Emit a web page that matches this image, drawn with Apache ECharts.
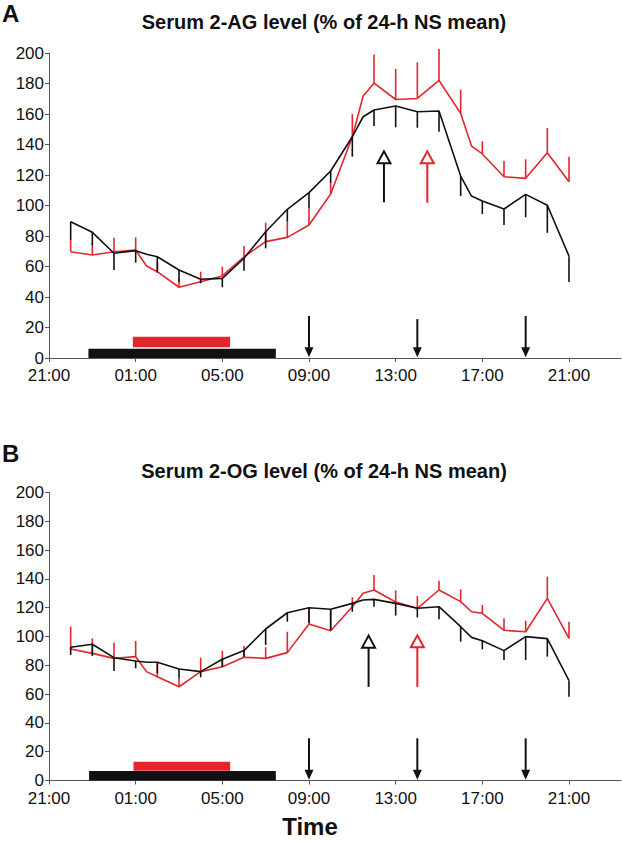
<!DOCTYPE html>
<html><head><meta charset="utf-8">
<script src="https://cdn.jsdelivr.net/npm/echarts@6/dist/echarts.min.js"></script>
<style>html,body{margin:0;padding:0;background:#fff}#c{width:622px;height:842px}</style>
</head><body><div id="c"></div>
<script>
// Hours after 21:00 (0 = 21:00 day 1, 24 = 21:00 day 2)
const hours = [1,2,3,4,4.5,5,6,7,8,9,10,11,12,13,14,14.5,15,16,17,18,19,19.5,20,21,22,23,24];
const xTickHours = [0,4,8,12,16,20,24];
const xTickLabels = ['21:00','01:00','05:00','09:00','13:00','17:00','21:00'];
const yTickValues = [0,20,40,60,80,100,120,140,160,180,200];

// Panel A: Serum 2-AG
const blackA = [89.4,82.4,68.7,70.4,68.0,66.4,57.7,51.6,52.2,65.4,82.8,97.5,108.4,122.6,145.1,158.2,162.6,165.3,161.5,162.0,119.3,106.2,103.0,97.7,107.3,100.2,66.8];
const blackALow = [77.4,74.0,57.7,62.5,null,56.0,50.0,49.0,46.4,57.2,71.9,89.4,98.2,114.5,132.0,null,152.1,151.3,151.0,148.4,106.2,null,94.4,87.2,92.3,82.1,49.8];
const redA = [69.7,67.5,69.7,70.8,60.3,56.6,46.4,50.0,53.8,66.4,76.3,79.1,87.2,107.5,145.0,171.8,180.2,169.5,170.2,182.0,160.4,139.0,133.8,118.9,117.8,134.6,115.6];
const redAHigh = [77.4,75.2,78.9,79.1,null,63.0,52.3,56.6,59.9,73.4,88.7,89.4,98.2,114.5,160.0,null,199.0,189.5,193.9,202.6,176.0,null,142.1,129.2,130.3,150.9,132.0];

// Panel B: Serum 2-OG
const blackB = [92.5,94.6,85.3,83.0,82.1,82.1,77.4,75.6,84.2,90.2,105.2,116.5,120.0,118.9,123.0,125.3,125.8,123.0,119.6,120.7,106.8,99.4,97.1,90.2,99.9,98.5,69.3];
const blackBLow = [87.2,86.5,76.0,77.9,null,74.5,71.0,71.7,79.0,86.0,94.1,110.3,109.6,104.5,117.2,null,120.7,114.5,113.3,111.9,96.4,null,91.1,83.7,83.7,86.0,58.2];
const redB = [91.3,88.3,84.8,86.0,75.6,72.1,65.1,75.6,79.0,85.6,84.8,88.8,108.7,104.0,120.7,130.0,132.3,124.0,119.6,132.3,124.2,117.2,116.1,104.3,103.3,126.5,98.7];
const redBHigh = [106.8,98.7,95.7,96.9,null,81.4,71.0,85.3,90.1,93.4,92.5,103.3,119.6,118.9,127.2,null,142.7,132.0,128.1,138.8,132.8,null,121.9,112.6,111.0,141.5,110.3];

// Period bars: [startHour, endHour, bottom, top]
const blackPeriodA = [1.82, 10.47, 0, 6.1];
const redPeriodA = [3.87, 8.36, 7.0, 14.0];
const blackPeriodB = [1.85, 10.47, 0, 6.6];
const redPeriodB = [3.9, 8.36, 6.8, 13.0];

// Down arrows (meals): [hour, topValue, tipValue]
const downArrowsA = [[12, 27.5, 0.5],[17, 25.5, 0.5],[22, 27.5, 0.5]];
const downArrowsB = [[12, 29.3, 0.5],[17, 29.3, 0.5],[22, 29.3, 0.5]];
// Up arrows (peaks): [hour, bottomValue, tipValue]
const upArrowBlackA = [[15.46, 102.1, 135.5]];
const upArrowRedA = [[17.46, 101.8, 135.5]];
const upArrowBlackB = [[14.75, 65.0, 100.6]];
const upArrowRedB = [[17.0, 65.0, 100.8]];

const BLACK = '#111111';
const RED = '#e3262d';
const FONT = "'Liberation Sans', Arial, sans-serif";

function pairs(xs, ys){ return xs.map((x,i)=>[x, ys[i]]); }
function triples(xs, ys, bs){ const out=[]; xs.forEach((x,i)=>{ if(bs[i]!=null) out.push([x, ys[i], bs[i]]); }); return out; }

function errRender(color){
  return function(params, api){
    const p1 = api.coord([api.value(0), api.value(1)]);
    const p2 = api.coord([api.value(0), api.value(2)]);
    return {type:'line', shape:{x1:p1[0],y1:p1[1],x2:p2[0],y2:p2[1]}, style:{stroke:color, lineWidth:1.6}};
  };
}
function rectRender(color){
  return function(params, api){
    const a = api.coord([api.value(0), api.value(3)]);
    const b = api.coord([api.value(1), api.value(2)]);
    return {type:'rect', shape:{x:a[0], y:a[1], width:b[0]-a[0], height:b[1]-a[1]}, style:{fill:color}};
  };
}
function downArrowRender(color){
  return function(params, api){
    const top = api.coord([api.value(0), api.value(1)]);
    const tip = api.coord([api.value(0), api.value(2)]);
    const hl = 10, hw = 4.5;
    return {type:'group', children:[
      {type:'line', shape:{x1:top[0],y1:top[1],x2:tip[0],y2:tip[1]-hl+1}, style:{stroke:color, lineWidth:2}},
      {type:'polygon', shape:{points:[[tip[0]-hw, tip[1]-hl],[tip[0]+hw, tip[1]-hl],[tip[0], tip[1]]]}, style:{fill:color}}
    ]};
  };
}
function upArrowRender(color){
  return function(params, api){
    const bot = api.coord([api.value(0), api.value(1)]);
    const tip = api.coord([api.value(0), api.value(2)]);
    const hl = 12, hw = 6.5;
    return {type:'group', children:[
      {type:'line', shape:{x1:bot[0],y1:bot[1],x2:tip[0],y2:tip[1]+hl}, style:{stroke:color, lineWidth:2}},
      {type:'polygon', shape:{points:[[tip[0]-hw, tip[1]+hl],[tip[0]+hw, tip[1]+hl],[tip[0], tip[1]]]}, style:{fill:'#fff', stroke:color, lineWidth:2}}
    ]};
  };
}

const grids = [
  {left:49, top:53, width:572, height:305},
  {left:49, top:492.5, width:572, height:288}
];
function xAxis(i){
  return {type:'value', gridIndex:i, min:0, max:26.4, interval:4,
    axisLine:{show:true, lineStyle:{color:'#555', width:1}},
    axisTick:{show:true, length:4, inside:false, lineStyle:{color:'#555'}, customValues:xTickHours},
    axisLabel:{show:true, customValues:xTickHours, margin:9, color:'#111', fontSize:17, fontFamily:FONT,
      formatter:function(v){ const idx = xTickHours.indexOf(v); return idx>=0 ? xTickLabels[idx] : ''; }},
    splitLine:{show:false}};
}
function yAxis(i){
  return {type:'value', gridIndex:i, min:0, max:200, interval:20,
    axisLine:{show:true, lineStyle:{color:'#555', width:1}},
    axisTick:{show:true, length:4, lineStyle:{color:'#555'}},
    axisLabel:{show:true, margin:5, color:'#111', fontSize:17, fontFamily:FONT},
    splitLine:{show:false}};
}
function panelSeries(i, blk, blkLow, red, redHigh, bP, rP, downs, upB, upR){
  return [
    {type:'custom', xAxisIndex:i, yAxisIndex:i, renderItem:rectRender(BLACK), data:[bP], encode:{x:[0,1], y:[2,3]}, silent:true, z:1},
    {type:'custom', xAxisIndex:i, yAxisIndex:i, renderItem:rectRender(RED), data:[rP], encode:{x:[0,1], y:[2,3]}, silent:true, z:1},
    {type:'custom', xAxisIndex:i, yAxisIndex:i, renderItem:errRender(RED), data:triples(hours, red, redHigh), encode:{x:0, y:[1,2]}, silent:true, z:2},
    {type:'line', xAxisIndex:i, yAxisIndex:i, data:pairs(hours, red), symbol:'none', lineStyle:{color:RED, width:1.6}, z:3, silent:true},
    {type:'custom', xAxisIndex:i, yAxisIndex:i, renderItem:errRender(BLACK), data:triples(hours, blk, blkLow), encode:{x:0, y:[1,2]}, silent:true, z:4},
    {type:'line', xAxisIndex:i, yAxisIndex:i, data:pairs(hours, blk), symbol:'none', lineStyle:{color:BLACK, width:1.6}, z:5, silent:true},
    {type:'custom', xAxisIndex:i, yAxisIndex:i, renderItem:downArrowRender(BLACK), data:downs, encode:{x:0, y:[1,2]}, silent:true, z:6},
    {type:'custom', xAxisIndex:i, yAxisIndex:i, renderItem:upArrowRender(BLACK), data:upB, encode:{x:0, y:[1,2]}, silent:true, z:6},
    {type:'custom', xAxisIndex:i, yAxisIndex:i, renderItem:upArrowRender(RED), data:upR, encode:{x:0, y:[1,2]}, silent:true, z:6}
  ];
}

const chart = echarts.init(document.getElementById('c'), null, {renderer:'svg', width:622, height:842});
chart.setOption({
  animation:false,
  backgroundColor:'#fff',
  grid:grids,
  xAxis:[xAxis(0), xAxis(1)],
  yAxis:[yAxis(0), yAxis(1)],
  series:[].concat(
    panelSeries(0, blackA, blackALow, redA, redAHigh, blackPeriodA, redPeriodA, downArrowsA, upArrowBlackA, upArrowRedA),
    panelSeries(1, blackB, blackBLow, redB, redBHigh, blackPeriodB, redPeriodB, downArrowsB, upArrowBlackB, upArrowRedB)
  ),
  graphic:[
    {type:'text', left:2, top:1, style:{text:'A', font:"bold 24px "+FONT, fill:'#111'}},
    {type:'text', x:324, y:22, style:{text:'Serum 2-AG level (% of 24-h NS mean)', font:"bold 20px "+FONT, fill:'#111', align:'center', verticalAlign:'middle'}},
    {type:'text', left:2, top:441, style:{text:'B', font:"bold 24px "+FONT, fill:'#111'}},
    {type:'text', x:324, y:471, style:{text:'Serum 2-OG level (% of 24-h NS mean)', font:"bold 20px "+FONT, fill:'#111', align:'center', verticalAlign:'middle'}},
    {type:'text', x:310, y:826, style:{text:'Time', font:"bold 24px "+FONT, fill:'#111', align:'center', verticalAlign:'middle'}}
  ]
});
</script>
</body></html>
